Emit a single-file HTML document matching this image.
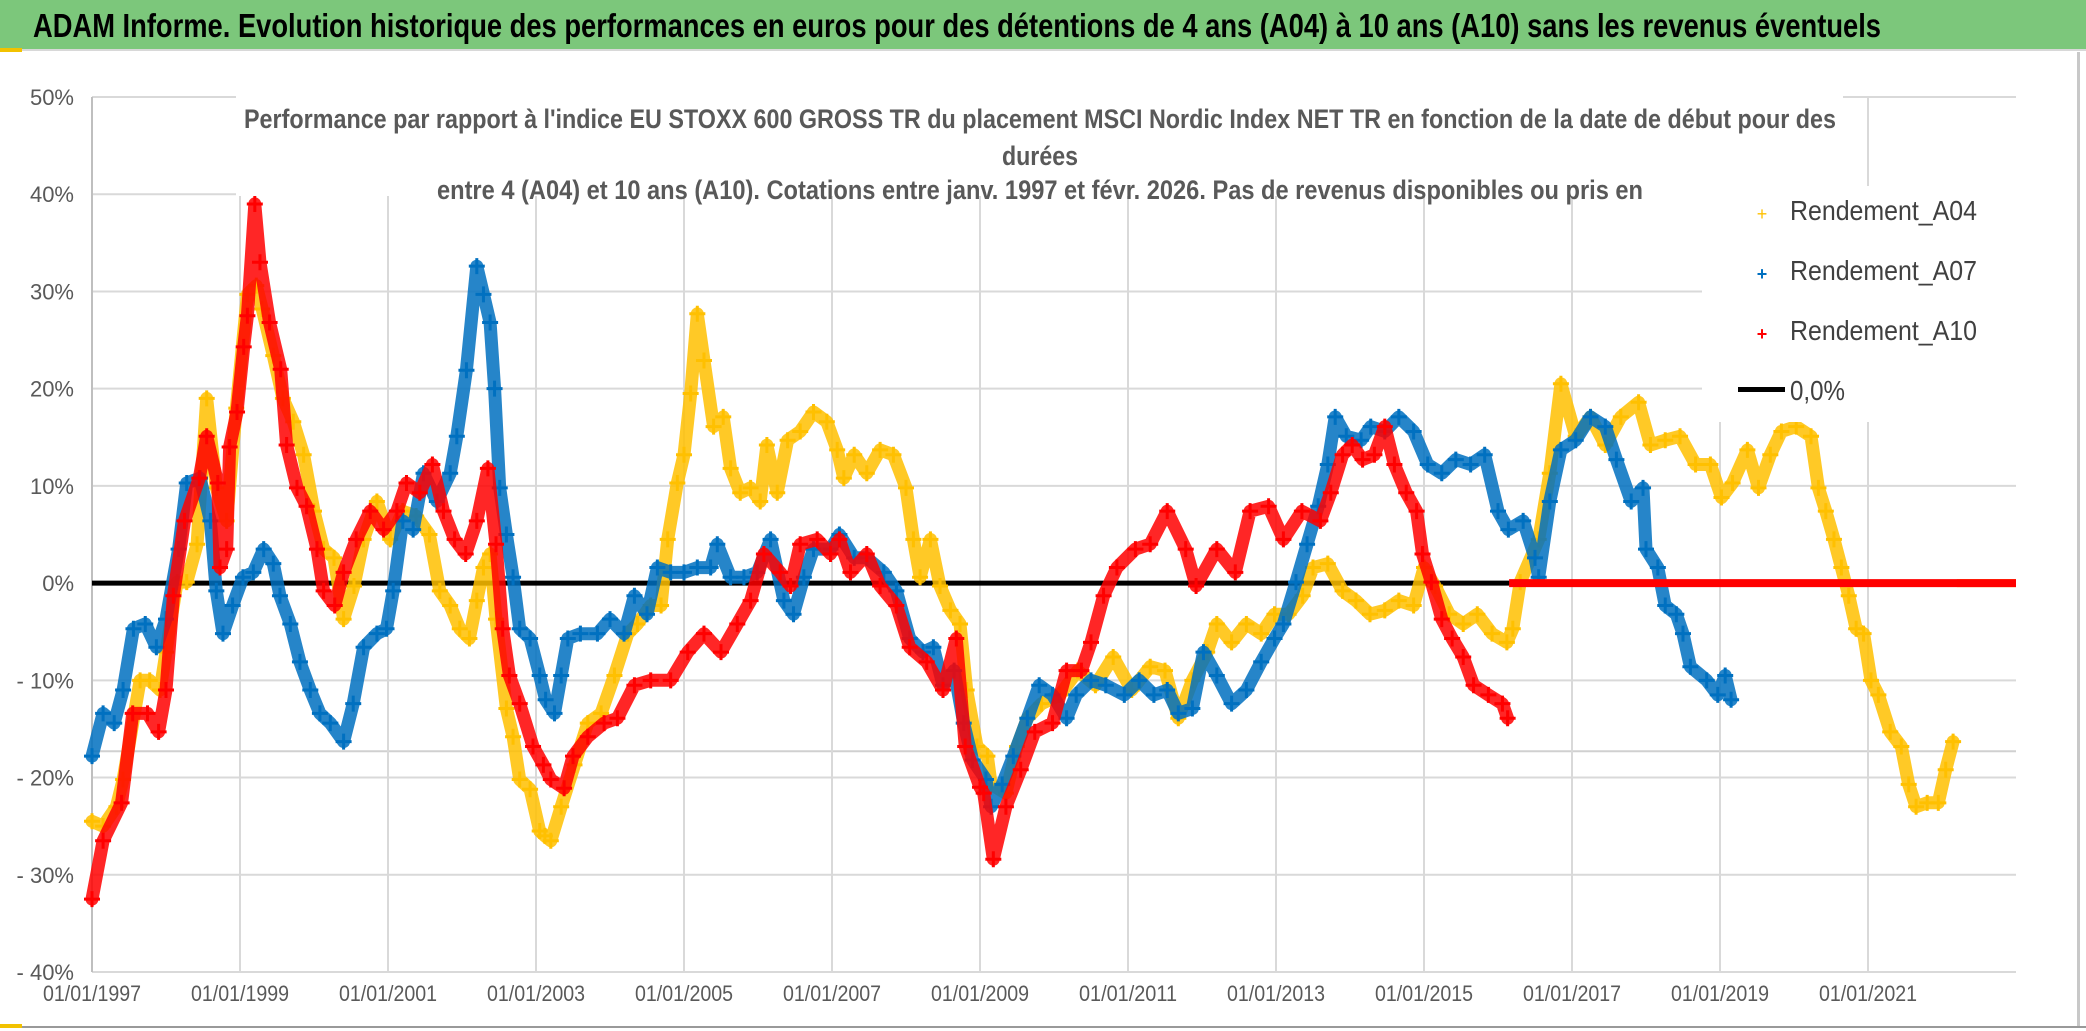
<!DOCTYPE html>
<html><head><meta charset="utf-8"><style>
html,body{margin:0;padding:0;background:#fff;}
svg{display:block;font-family:"Liberation Sans Narrow","Liberation Sans",sans-serif;}
</style></head><body>
<svg id="chart" width="2086" height="1031" viewBox="0 0 2086 1031">
<rect x="0" y="0" width="2086" height="1031" fill="#fff"/>
<rect x="0" y="0" width="2086" height="49" fill="#7cc77b"/>
<rect x="0" y="49" width="2086" height="2" fill="#d8d8d8"/>
<rect x="0" y="48" width="22" height="4" fill="#f2c200"/>
<text x="33" y="37" font-size="33" font-weight="bold" fill="#000" textLength="1848" lengthAdjust="spacingAndGlyphs">ADAM Informe. Evolution historique des performances en euros pour des détentions de 4 ans (A04) à 10 ans (A10) sans les revenus éventuels</text>
<rect x="2077" y="52" width="3" height="975" fill="#c8c8c8"/>
<rect x="0" y="1026" width="2086" height="2" fill="#999"/>
<rect x="0" y="1024" width="22" height="4" fill="#f2c200"/>
<g id="grid"></g>
<g id="ylabels"></g>
<g id="xlabels"></g>
<rect x="236" y="84" width="1607" height="112" fill="#fff"/>
<g fill="#595959" font-size="27" font-weight="bold" text-anchor="middle">
<text x="1040" y="206" dy="-78" textLength="1592" lengthAdjust="spacingAndGlyphs">Performance  par rapport à l'indice EU STOXX 600 GROSS TR  du placement MSCI Nordic Index NET TR en fonction de la date de début pour des</text>
<text x="1040" y="165" textLength="76" lengthAdjust="spacingAndGlyphs">durées</text>
<text x="1040" y="199" textLength="1206" lengthAdjust="spacingAndGlyphs">entre 4 (A04) et 10 ans (A10). Cotations entre janv. 1997 et févr. 2026. Pas de revenus disponibles ou pris en</text>
</g>
<g id="series"></g>
<rect x="1702" y="186" width="314" height="236" fill="#fff"/>
<g font-size="28" fill="#404040">
<g><text x="1762" y="220" fill="#ffc000" font-size="18" text-anchor="middle">+</text><text x="1790" y="220" textLength="187" lengthAdjust="spacingAndGlyphs">Rendement_A04</text></g>
<g><text x="1762" y="280" fill="#0070c0" font-size="18" text-anchor="middle" font-weight="bold">+</text><text x="1790" y="280" textLength="187" lengthAdjust="spacingAndGlyphs">Rendement_A07</text></g>
<g><text x="1762" y="340" fill="#ff0000" font-size="18" text-anchor="middle" font-weight="bold">+</text><text x="1790" y="340" textLength="187" lengthAdjust="spacingAndGlyphs">Rendement_A10</text></g>
<g><rect x="1738" y="387" width="47" height="5" fill="#000"/><text x="1790" y="400" textLength="55" lengthAdjust="spacingAndGlyphs">0,0%</text></g>
</g>
</svg>
<script>
const yTicks = [50,40,30,20,10,0,-10,-20,-30,-40];
const yTickLabels = ["50%","40%","30%","20%","10%","0%","- 10%","- 20%","- 30%","- 40%"];
const xTicks = [1997,1999,2001,2003,2005,2007,2009,2011,2013,2015,2017,2019,2021];
const xTickLabels = ["01/01/1997","01/01/1999","01/01/2001","01/01/2003","01/01/2005","01/01/2007","01/01/2009","01/01/2011","01/01/2013","01/01/2015","01/01/2017","01/01/2019","01/01/2021"];
const extraGridValue = -17.3;

const a10Years = [1997.0,1997.15,1997.4,1997.55,1997.75,1997.9,1998.0,1998.1,1998.25,1998.45,1998.55,1998.7,1998.73,1998.82,1998.86,1998.96,1999.05,1999.1,1999.2,1999.27,1999.4,1999.55,1999.63,1999.77,1999.9,2000.04,2000.13,2000.28,2000.4,2000.57,2000.76,2000.94,2001.12,2001.25,2001.43,2001.6,2001.75,2001.9,2002.05,2002.2,2002.35,2002.46,2002.55,2002.64,2002.78,2002.96,2003.1,2003.2,2003.38,2003.5,2003.7,2003.92,2004.1,2004.33,2004.55,2004.82,2005.05,2005.27,2005.5,2005.72,2005.9,2006.08,2006.3,2006.44,2006.57,2006.8,2006.98,2007.1,2007.25,2007.47,2007.65,2007.87,2008.05,2008.28,2008.5,2008.68,2008.8,2009.0,2009.05,2009.18,2009.35,2009.55,2009.74,2009.98,2010.17,2010.37,2010.5,2010.67,2010.85,2011.1,2011.3,2011.53,2011.78,2011.92,2012.2,2012.45,2012.65,2012.9,2013.1,2013.35,2013.6,2013.74,2013.9,2014.03,2014.17,2014.33,2014.47,2014.6,2014.76,2014.9,2014.98,2015.1,2015.24,2015.38,2015.53,2015.67,2015.87,2016.06,2016.13];
const a10Values = [-32.5,-26.5,-22.6,-13.4,-13.4,-15.3,-11,-1.3,6.4,10.8,15.1,10.3,1.6,3.5,14,17.6,24.3,27.5,39,33,26.8,22,14.2,9.8,7.9,3.5,-0.8,-2.3,1.1,4.5,7.4,5.5,7.4,10.3,9.3,12.2,7.4,4.5,3,6.4,11.8,4,-4.7,-9.5,-12.4,-16.8,-18.7,-20.2,-21.1,-17.8,-15.8,-14.4,-13.9,-10.5,-10,-10,-7.1,-5.2,-7.1,-4.2,-1.8,3,1.1,-0.3,4,4.5,3,4.5,1.1,3,-0.3,-2.3,-6.6,-8.1,-11,-5.7,-16.8,-21,-21.6,-28.4,-23,-19.2,-15.3,-14.4,-9,-9,-6.1,-1.3,1.6,3.5,4,7.4,3.5,-0.3,3.5,1.1,7.4,7.9,4.5,7.4,6.4,9.3,13.2,14.2,12.7,13.2,16.1,12.2,9.3,7.4,3,0.1,-3.7,-5.7,-7.6,-10.5,-11.5,-12.4,-13.9];
const a10ZeroStart = 2016.15;
const a10ZeroEnd = 2023.0;

const a07Years = [1997.0,1997.15,1997.3,1997.42,1997.56,1997.72,1997.87,1998.0,1998.17,1998.28,1998.46,1998.6,1998.68,1998.77,1998.9,1999.04,1999.18,1999.32,1999.45,1999.54,1999.68,1999.81,1999.95,2000.08,2000.22,2000.4,2000.53,2000.67,2000.85,2000.98,2001.07,2001.2,2001.34,2001.48,2001.66,2001.84,2001.93,2002.06,2002.2,2002.29,2002.38,2002.44,2002.51,2002.6,2002.69,2002.78,2002.92,2003.05,2003.13,2003.25,2003.34,2003.43,2003.6,2003.83,2004.0,2004.19,2004.33,2004.5,2004.64,2004.82,2005.0,2005.18,2005.36,2005.45,2005.63,2005.81,2005.99,2006.17,2006.35,2006.48,2006.62,2006.75,2006.98,2007.1,2007.3,2007.47,2007.7,2007.87,2008.05,2008.23,2008.37,2008.5,2008.65,2008.78,2008.9,2009.08,2009.15,2009.3,2009.45,2009.64,2009.8,2009.98,2010.17,2010.3,2010.5,2010.7,2010.95,2011.15,2011.35,2011.53,2011.68,2011.87,2012.02,2012.2,2012.4,2012.6,2012.8,2012.98,2013.1,2013.27,2013.42,2013.57,2013.7,2013.8,2013.95,2014.15,2014.28,2014.47,2014.66,2014.86,2015.05,2015.24,2015.43,2015.63,2015.82,2016.0,2016.14,2016.34,2016.5,2016.55,2016.7,2016.85,2017.05,2017.25,2017.45,2017.6,2017.8,2017.96,2018.0,2018.16,2018.26,2018.41,2018.5,2018.6,2018.82,2018.97,2019.07,2019.15];
const a07Values = [-17.8,-13.4,-14.4,-11,-4.7,-4.2,-6.6,-3.7,3.5,10.3,10.8,6.4,-0.8,-5.2,-2.3,0.6,1.1,3.5,2,-1.3,-4.2,-8.1,-11,-13.4,-14.4,-16.3,-12.4,-6.6,-5.2,-4.7,-0.8,6.4,5.5,11.3,8.4,11.3,15.1,21.9,32.6,29.7,26.8,20,9.8,5,0.6,-4.7,-5.7,-9.5,-12,-13.4,-9.5,-5.7,-5.2,-5.2,-3.7,-5.2,-1.3,-3.2,1.6,1.1,1.1,1.6,1.6,4,0.6,0.6,1.1,4.5,-1.8,-3.2,0.6,3.5,3.5,5,2.6,2.6,1.1,-0.8,-5.7,-7.1,-6.6,-10.5,-9,-14.4,-18.2,-20.2,-23,-20.7,-17.8,-13.9,-10.5,-11.5,-13.9,-11.5,-10,-10.5,-11.5,-10,-11.5,-11,-13.4,-12.9,-7.1,-9.5,-12.4,-11,-8.1,-5.7,-4.2,0.1,4,7.9,12.2,17.1,15.1,14.7,16.1,15.6,17.1,15.6,12.2,11.3,12.7,12.2,13.2,7.4,5.5,6.4,2.6,0.6,8.4,13.7,14.7,17.1,16.1,12.7,8.4,9.8,3.5,1.6,-2.3,-3.2,-5.2,-8.6,-10,-11.5,-9.5,-12];

const a04Years = [1997.0,1997.15,1997.33,1997.42,1997.65,1997.78,1997.92,1998.0,1998.15,1998.28,1998.42,1998.55,1998.68,1998.82,1998.95,1999.1,1999.22,1999.3,1999.45,1999.58,1999.72,1999.86,2000.0,2000.13,2000.27,2000.4,2000.54,2000.67,2000.85,2001.03,2001.2,2001.38,2001.56,2001.7,2001.84,2001.97,2002.1,2002.2,2002.29,2002.38,2002.46,2002.6,2002.69,2002.78,2002.92,2003.05,2003.12,2003.2,2003.34,2003.52,2003.7,2003.88,2004.06,2004.24,2004.37,2004.55,2004.69,2004.78,2004.91,2005.0,2005.09,2005.18,2005.27,2005.4,2005.53,2005.63,2005.76,2005.9,2006.03,2006.12,2006.26,2006.4,2006.57,2006.75,2006.93,2007.07,2007.16,2007.3,2007.47,2007.65,2007.83,2008.0,2008.1,2008.19,2008.33,2008.46,2008.6,2008.73,2008.82,2008.96,2009.1,2009.15,2009.35,2009.5,2009.64,2009.83,2010.08,2010.32,2010.56,2010.8,2011.05,2011.3,2011.5,2011.68,2011.87,2012.07,2012.2,2012.4,2012.6,2012.8,2012.98,2013.17,2013.36,2013.5,2013.7,2013.9,2014.08,2014.27,2014.47,2014.66,2014.86,2015.0,2015.15,2015.34,2015.53,2015.72,2015.92,2016.12,2016.2,2016.3,2016.55,2016.7,2016.85,2017.05,2017.25,2017.45,2017.66,2017.9,2018.06,2018.26,2018.46,2018.67,2018.87,2019.02,2019.17,2019.37,2019.52,2019.68,2019.83,2020.03,2020.23,2020.33,2020.43,2020.54,2020.64,2020.74,2020.84,2020.94,2021.04,2021.14,2021.3,2021.45,2021.55,2021.65,2021.8,2021.95,2022.05,2022.15];
const a04Values = [-24.5,-25,-23,-20.2,-10,-10,-11,-7.1,0.1,0.1,4,19,9.8,6.4,18,29.7,30.6,28.2,23.4,19,16.6,13.2,7.4,3.5,2.6,-3.7,-0.3,4.5,8.4,4.5,7.4,6.9,5,-0.8,-2.3,-4.7,-5.7,-1.8,1.6,3,-3.7,-12.9,-15.8,-20.2,-21.2,-25.5,-26,-26.5,-23,-18.7,-14.4,-13.4,-9.5,-5.2,-4.2,-2.3,-2.3,4.5,10.3,13.2,19.5,27.7,22.9,16.1,17.1,11.8,9.3,9.8,8.4,14.2,9.3,14.7,15.6,17.6,16.6,13.7,10.8,13.2,11.3,13.7,13.2,9.8,4.5,0.6,4.5,-0.3,-2.8,-4.2,-11,-16.8,-17.8,-20.7,-21.6,-16.8,-13.9,-12.4,-11.5,-9,-10.5,-7.6,-11,-8.6,-9,-13.9,-10,-7.1,-4.2,-6.1,-4.2,-5.2,-3.2,-3.2,-1.3,1.6,2,-0.8,-1.8,-3.2,-2.8,-1.8,-2.3,1.6,-0.3,-3.2,-4.2,-3.2,-5.2,-6.1,-4.7,0.1,4.5,11.3,20.5,15.1,17.1,14.2,17.1,18.6,14.2,14.7,15.1,12.2,12.2,8.8,10.3,13.7,9.8,13.2,15.6,16.1,15.1,9.8,7.4,4.5,1.6,-1.3,-4.7,-5.2,-10,-11.5,-15.3,-16.8,-20.7,-23,-22.6,-22.6,-19.2,-16.3];
const a04ZeroStart = 2022.2;
const a04ZeroEnd = 2023.0;

const NS = "http://www.w3.org/2000/svg";
const X0 = 92, X1 = 2016, Y_TOP = 97, Y_BOT = 972;
const xMin = 1997, xMax = 2023, yMin = -40, yMax = 50;
function xScale(v){ return X0 + (v - xMin) / (xMax - xMin) * (X1 - X0); }
function yScale(v){ return Y_BOT - (v - yMin) / (yMax - yMin) * (Y_BOT - Y_TOP); }
function mk(tag, attrs, parent){ const e = document.createElementNS(NS, tag); for (const k in attrs) e.setAttribute(k, attrs[k]); parent.appendChild(e); return e; }

const grid = document.getElementById('grid');
yTicks.forEach(function(t){
  const l = mk('line', {x1: X0, x2: X1, y1: yScale(t), y2: yScale(t), stroke: '#d9d9d9', 'stroke-width': 2}, grid);
  
  
});
const eg = mk('line', {x1: X0, x2: X1, y1: yScale(extraGridValue), y2: yScale(extraGridValue), stroke: '#d0d0d0', 'stroke-width': 2}, grid);


xTicks.forEach(function(t, i){
  const l = mk('line', {x1: xScale(t), x2: xScale(t), y1: Y_TOP, y2: Y_BOT, stroke: i === 0 ? '#bfbfbf' : '#d9d9d9', 'stroke-width': 2}, grid);
  
  
});

const yl = document.getElementById('ylabels');
yTicks.forEach(function(t, i){
  const tx = mk('text', {x: 74, y: yScale(t) + 8, 'text-anchor': 'end', 'font-size': 22, fill: '#595959'}, yl);
  tx.textContent = yTickLabels[i];
  
  
});
const xl = document.getElementById('xlabels');
xTicks.forEach(function(t, i){
  const tx = mk('text', {x: xScale(t), y: 1001, 'text-anchor': 'middle', 'font-size': 22, fill: '#595959', textLength: 98, lengthAdjust: 'spacingAndGlyphs'}, xl);
  tx.textContent = xTickLabels[i];
  
  
});

const series = document.getElementById('series');
const zl = mk('line', {x1: X0, x2: X1, y1: yScale(0), y2: yScale(0), stroke: '#000', 'stroke-width': 5}, series);



function drawSeries(name, years, values, color, width){
  const g = mk('g', {}, series);
  
  
  const pts = years.map(function(y, i){ return xScale(y).toFixed(1) + ',' + yScale(values[i]).toFixed(1); }).join(' ');
  const pl = mk('polyline', {points: pts, fill: 'none', stroke: color, 'stroke-width': width, 'stroke-linejoin': 'round', 'stroke-linecap': 'round', opacity: 0.85}, g);
  
  
  years.forEach(function(y, i){
    const cx = xScale(y), cy = yScale(values[i]);
    const p = mk('path', {d: 'M' + (cx - 8) + ' ' + cy + 'h16M' + cx + ' ' + (cy - 8) + 'v16', stroke: color, 'stroke-width': 3}, g);
    
    
  });
  return g;
}
drawSeries('series-a04', a04Years, a04Values, '#ffc000', 13);
const z4 = mk('line', {x1: xScale(a04ZeroStart), x2: xScale(a04ZeroEnd), y1: yScale(0), y2: yScale(0), stroke: '#ffc000', 'stroke-width': 8}, series);


drawSeries('series-a07', a07Years, a07Values, '#0070c0', 13);
drawSeries('series-a10', a10Years, a10Values, '#ff0000', 13);
const z10 = mk('line', {x1: xScale(a10ZeroStart), x2: xScale(a10ZeroEnd), y1: yScale(0), y2: yScale(0), stroke: '#ff0000', 'stroke-width': 8}, series);


</script>
</body></html>
